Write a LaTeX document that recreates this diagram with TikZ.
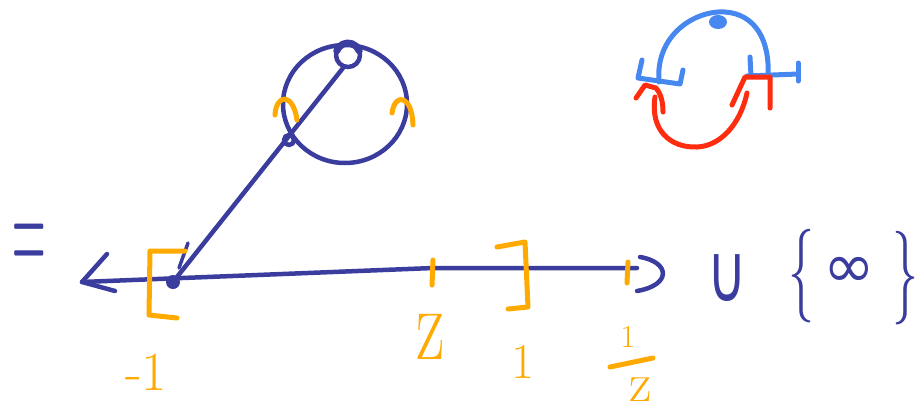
\documentclass[tikz,border=0pt]{standalone}
\usepackage{fontspec}
\newfontfamily\symf{DejaVu Sans}
\definecolor{ink}{RGB}{58,60,158}
\definecolor{hl}{RGB}{255,170,0}
\definecolor{sky}{RGB}{70,135,240}
\definecolor{rd}{RGB}{255,45,15}
\begin{document}
\begin{tikzpicture}[x=1pt,y=-1pt, line cap=round, line join=round,
  pen/.style={draw=ink,line width=4.5pt},
  hpen/.style={draw=hl,line width=5pt},
  bpen/.style={draw=sky,line width=5pt},
  rpen/.style={draw=rd,line width=5pt},
  lab/.style={text=hl,inner sep=0pt},
  ilab/.style={text=ink,inner sep=0pt}]
\useasboundingbox (0,0) rectangle (921,413);
% key points
\coordinate (P) at (173,282);
\coordinate (Q) at (343,68);
\coordinate (L) at (82,282);
\coordinate (R) at (637,268);
\coordinate (C) at (345,104);
\coordinate (S) at (348,55);
\coordinate (K) at (289,140);
% real line with arrow
\draw[pen] (R) -- (433,268) -- (L);
\draw[pen] (107,254) -- (L) -- (115,291);
\draw[pen] (640,257) .. controls (670,262) and (672,285) .. (637,291);
% circle
\draw[pen] (C) ellipse [x radius=62, y radius=59];
\draw[pen] (S) circle [radius=12];
\draw[ink,line width=7pt] (336.7,50.9) arc [start angle=200, end angle=340, radius=12];
\draw[pen] (K) circle [radius=5];
\draw[pen] (P) -- (Q);
\fill[ink] (P) circle [radius=7];
\draw[pen,line width=3.5pt] (188,243) -- (179,268);
% orange marks
\draw[hpen] (185,251) -- (150,251) -- (149,315) -- (177,318);
\draw[hpen] (497,247) -- (525,242) -- (528,307) -- (508,309);
\draw[hpen] (433,260) -- (432,285);
\draw[hpen] (628,262) -- (627,283);
\draw[hpen] (275,115) .. controls (276,94) and (293,92) .. (297,120);
\draw[hpen] (392,113) .. controls (395,92) and (412,95) .. (413,125);
% orange labels
\node[lab,font=\fontsize{55}{55}\selectfont] (m1) at (146,372) {-1};
\node[lab,font=\fontsize{70}{70}\selectfont] (z) at (431,337) {\scalebox{1}[1.5]{z}};
\node[lab,font=\fontsize{50}{50}\selectfont] (one) at (523,362) {1};
\node[lab,font=\fontsize{32}{32}\selectfont] (fn) at (628,337) {1};
\coordinate (b1) at (610,367);
\coordinate (b2) at (653,358);
\draw[hpen] (b1) -- (b2);
\node[lab,font=\fontsize{55}{55}\selectfont] (fd) at (641,390) {z};
% blue labels
\node[ilab,anchor=base,font=\fontsize{150}{150}\selectfont] (eq) at (29,277) {\scalebox{0.31}[1]{=}};
\node[ilab,font=\fontsize{45}{45}\selectfont\symf] (cup) at (727,278) {\scalebox{1.2}[1.8]{∪}};
\node[ilab,font=\fontsize{52}{52}\selectfont] (lb) at (801,276) {\scalebox{1}[1.8]{\{}};
\node[ilab,font=\fontsize{62}{62}\selectfont\symf] (inf) at (849,272) {∞};
\node[ilab,font=\fontsize{52}{52}\selectfont] (rb) at (905,278) {\scalebox{1}[1.8]{\}}};
% top-right sketch
\draw[bpen] (659,82) .. controls (655,35) and (695,10) .. (725,12) .. controls (755,14) and (770,40) .. (768,76);
\fill[sky] (718,22) ellipse [x radius=9, y radius=7];
\draw[bpen] (642,60) -- (638,78) -- (680,84) -- (683,70);
\draw[bpen] (750,57) -- (751,76);
\draw[bpen] (747,76) -- (798,74);
\draw[bpen] (798,63) -- (798,81);
\draw[rpen] (636,98) -- (645,85) -- (656,88) .. controls (662,95) and (663,105) .. (663,112);
\draw[rpen] (655,97) .. controls (650,130) and (670,148) .. (697,147) .. controls (720,146) and (740,125) .. (747,93);
\draw[rpen] (732,105) -- (745,77) -- (770,77) -- (770,108);
\end{tikzpicture}
\end{document}
